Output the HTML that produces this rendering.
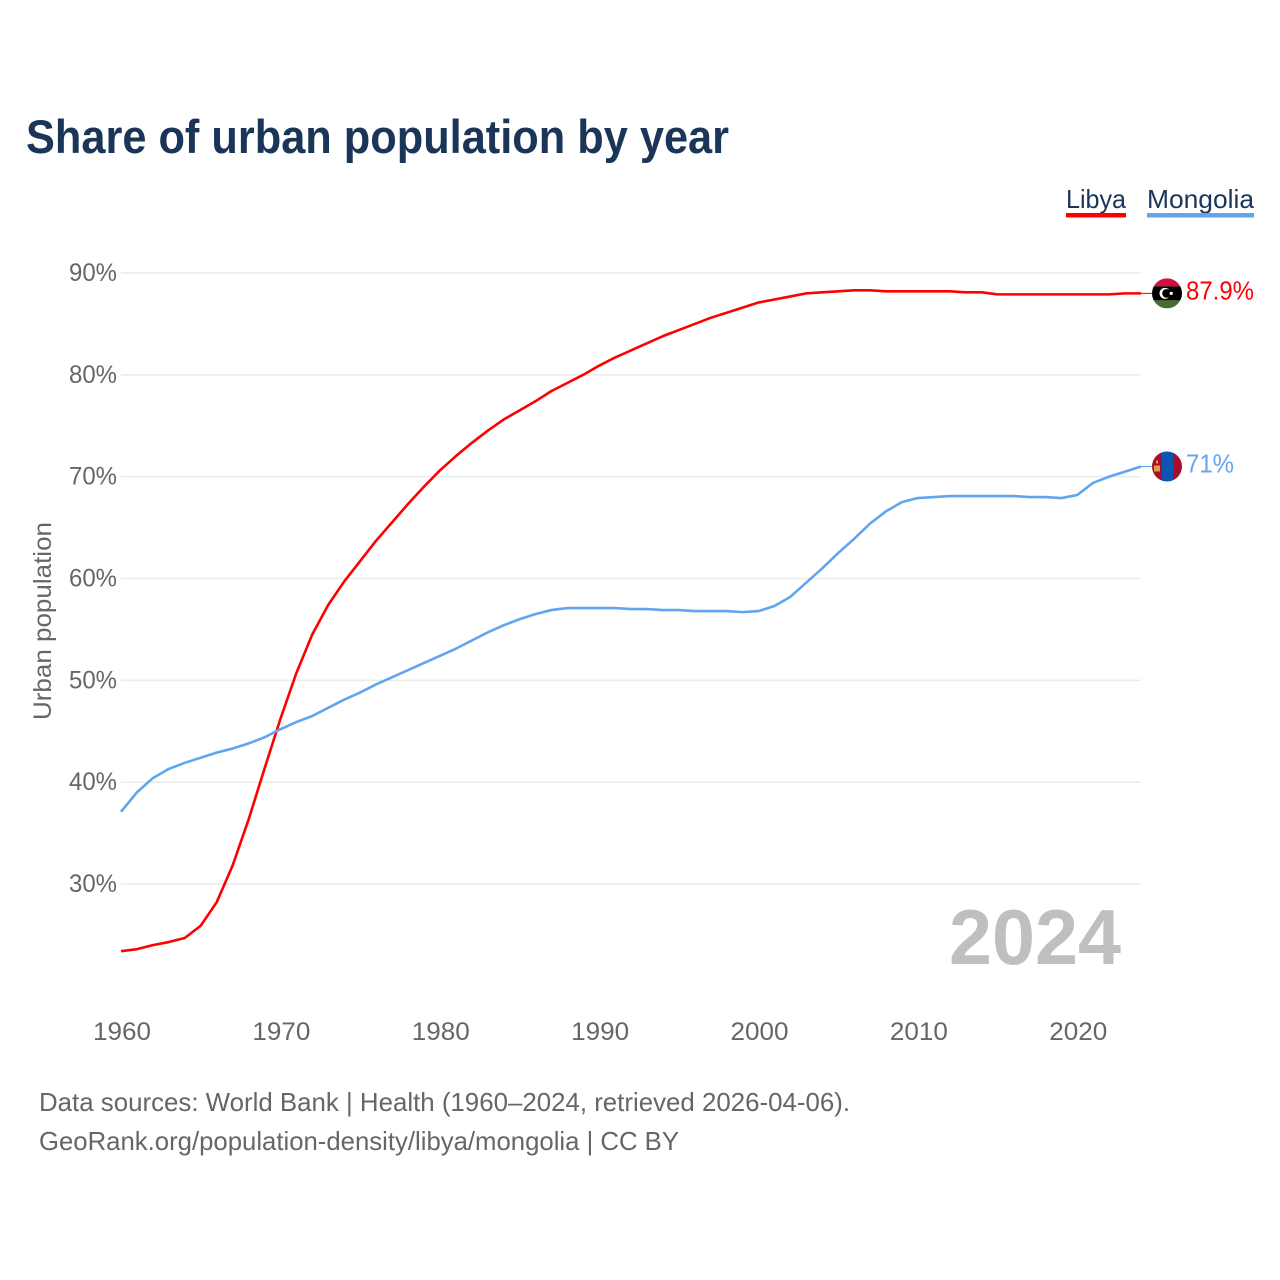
<!DOCTYPE html>
<html lang="en">
<head>
<meta charset="utf-8">
<title>Share of urban population by year</title>
<style>
html,body{margin:0;padding:0;background:#fff;}
svg{display:block;font-family:"Liberation Sans",sans-serif;}
</style>
</head>
<body>
<svg id="chart" width="1280" height="1280" viewBox="0 0 1280 1280" xmlns="http://www.w3.org/2000/svg">
  <rect width="1280" height="1280" fill="#ffffff"/>
  <text x="26" y="153" font-size="47" font-weight="700" fill="#1a3557" textLength="703" lengthAdjust="spacingAndGlyphs">Share of urban population by year</text>

  <g>
    <g>
      <text x="1066" y="208" font-size="26" fill="#1a3557" textLength="60" lengthAdjust="spacingAndGlyphs">Libya</text>
      <rect x="1066" y="213" width="60" height="4.5" fill="#ff0000"/>
    </g>
    <g>
      <text x="1147" y="208" font-size="26" fill="#1a3557" textLength="107" lengthAdjust="spacingAndGlyphs">Mongolia</text>
      <rect x="1147" y="213" width="107" height="4.5" fill="#60a5ee"/>
    </g>
  </g>

  <g id="grid"></g>
  <g id="y-axis"></g>
  <g id="x-axis"></g>
  <text transform="translate(51,621) rotate(-90)" text-anchor="middle" font-size="25" fill="#666666" textLength="198" lengthAdjust="spacingAndGlyphs">Urban population</text>

  <text x="949" y="964" font-size="78" font-weight="700" fill="#bfbfbf" textLength="172" lengthAdjust="spacingAndGlyphs">2024</text>

  <g id="series"></g>

  <g id="flag-libya">
    <clipPath id="clip-libya"><circle cx="0" cy="0" r="15"/></clipPath>
    <g clip-path="url(#clip-libya)">
      <rect x="-15" y="-15" width="30" height="8" fill="#d3103c"/>
      <rect x="-15" y="-7" width="30" height="14" fill="#000000"/>
      <rect x="-15" y="7" width="30" height="8" fill="#4a6b30"/>
      <circle cx="-2" cy="0" r="5.5" fill="#ffffff"/>
      <circle cx="-0.4" cy="0" r="4.4" fill="#000000"/>
      <circle cx="4.2" cy="0" r="1.6" fill="#ffffff"/>
    </g>
  </g>
  <g id="flag-mongolia">
    <clipPath id="clip-mongolia"><circle cx="0" cy="0" r="15"/></clipPath>
    <g clip-path="url(#clip-mongolia)">
      <rect x="-15" y="-15" width="10" height="30" fill="#a50e2d"/>
      <rect x="-5" y="-15" width="11" height="30" fill="#0a55b5"/>
      <rect x="6" y="-15" width="9" height="30" fill="#a50e2d"/>
      <rect x="-13" y="-1" width="6" height="6" fill="#d8a040"/>
      <rect x="-11" y="-6" width="2" height="3" fill="#d8a040"/>
    </g>
  </g>

  <text id="value-libya" x="1186" font-size="26" fill="#ff0000" textLength="68" lengthAdjust="spacingAndGlyphs"></text>
  <text id="value-mongolia" x="1186" font-size="26" fill="#60a5ee" textLength="48" lengthAdjust="spacingAndGlyphs"></text>

  <text x="39" y="1111" font-size="26" fill="#666666" textLength="811" lengthAdjust="spacingAndGlyphs">Data sources: World Bank | Health (1960–2024, retrieved 2026-04-06).</text>
  <text x="39" y="1150" font-size="26" fill="#666666" textLength="640" lengthAdjust="spacingAndGlyphs">GeoRank.org/population-density/libya/mongolia | CC BY</text>
</svg>
<script>
const years = [1960,1961,1962,1963,1964,1965,1966,1967,1968,1969,
  1970,1971,1972,1973,1974,1975,1976,1977,1978,1979,
  1980,1981,1982,1983,1984,1985,1986,1987,1988,1989,
  1990,1991,1992,1993,1994,1995,1996,1997,1998,1999,
  2000,2001,2002,2003,2004,2005,2006,2007,2008,2009,
  2010,2011,2012,2013,2014,2015,2016,2017,2018,2019,
  2020,2021,2022,2023,2024];
const libya = [23.4,23.6,24.0,24.3,24.7,25.9,28.2,31.8,36.3,41.3,
  46.2,50.7,54.5,57.4,59.7,61.7,63.7,65.5,67.3,69.0,
  70.6,72.0,73.3,74.5,75.6,76.5,77.4,78.4,79.2,80.0,
  80.9,81.7,82.4,83.1,83.8,84.4,85.0,85.6,86.1,86.6,
  87.1,87.4,87.7,88.0,88.1,88.2,88.3,88.3,88.2,88.2,
  88.2,88.2,88.2,88.1,88.1,87.9,87.9,87.9,87.9,87.9,
  87.9,87.9,87.9,88.0,88.0];
const mongolia = [37.1,39.0,40.4,41.3,41.9,42.4,42.9,43.3,43.8,44.4,
  45.2,45.9,46.5,47.3,48.1,48.8,49.6,50.3,51.0,51.7,
  52.4,53.1,53.9,54.7,55.4,56.0,56.5,56.9,57.1,57.1,
  57.1,57.1,57.0,57.0,56.9,56.9,56.8,56.8,56.8,56.7,
  56.8,57.3,58.2,59.6,61.0,62.5,63.9,65.4,66.6,67.5,
  67.9,68.0,68.1,68.1,68.1,68.1,68.1,68.0,68.0,67.9,
  68.2,69.4,70.0,70.5,71.0];
const yTicks = [30,40,50,60,70,80,90];
const yTickLabels = ["30%","40%","50%","60%","70%","80%","90%"];
const xTicks = [1960,1970,1980,1990,2000,2010,2020];
const xTickLabels = ["1960","1970","1980","1990","2000","2010","2020"];
const endLabelLibya = "87.9%";
const endLabelMongolia = "71%";

const NS = "http://www.w3.org/2000/svg";
function xScale(year){ return 121 + (year - 1960) * (1020 / 64); }
function yScale(value){ return 273 + (90 - value) * (611 / 60); }
function make(tag, parent){
  const el = document.createElementNS(NS, tag);
  parent.appendChild(el);
  return el;
}

const gridGroup = document.getElementById("grid");
const yAxisGroup = document.getElementById("y-axis");
const xAxisGroup = document.getElementById("x-axis");
const seriesGroup = document.getElementById("series");

yTicks.forEach(function(tick, i){
  const line = make("line", gridGroup);
  
  
  line.setAttribute("x1", xScale(1960));
  line.setAttribute("x2", xScale(2024));
  line.setAttribute("y1", yScale(tick));
  line.setAttribute("y2", yScale(tick));
  line.setAttribute("stroke", "#ececec");
  line.setAttribute("stroke-width", "1.6");

  const label = make("text", yAxisGroup);
  
  
  label.setAttribute("x", 69);
  label.setAttribute("y", yScale(tick) + 8);
  label.setAttribute("font-size", "25");
  label.setAttribute("fill", "#666666");
  label.setAttribute("textLength", "48");
  label.setAttribute("lengthAdjust", "spacingAndGlyphs");
  label.textContent = yTickLabels[i];
});

xTicks.forEach(function(tick, i){
  const label = make("text", xAxisGroup);
  
  
  label.setAttribute("x", xScale(tick) - 28);
  label.setAttribute("y", 1040);
  label.setAttribute("font-size", "25");
  label.setAttribute("fill", "#666666");
  label.setAttribute("textLength", "58");
  label.setAttribute("lengthAdjust", "spacingAndGlyphs");
  label.textContent = xTickLabels[i];
});

function linePath(values){
  return values.map(function(v, i){
    return (i ? "L" : "M") + xScale(years[i]).toFixed(2) + " " + yScale(v).toFixed(2);
  }).join(" ");
}

const libyaLine = make("path", seriesGroup);


libyaLine.setAttribute("d", linePath(libya));
libyaLine.setAttribute("fill", "none");
libyaLine.setAttribute("stroke", "#ff0000");
libyaLine.setAttribute("stroke-width", "2.6");
libyaLine.setAttribute("stroke-linejoin", "round");

const mongoliaLine = make("path", seriesGroup);


mongoliaLine.setAttribute("d", linePath(mongolia));
mongoliaLine.setAttribute("fill", "none");
mongoliaLine.setAttribute("stroke", "#60a5ee");
mongoliaLine.setAttribute("stroke-width", "2.6");
mongoliaLine.setAttribute("stroke-linejoin", "round");

const lastYear = years[years.length - 1];
const libyaEndY = yScale(libya[libya.length - 1]);
const mongoliaEndY = yScale(mongolia[mongolia.length - 1]);

const libyaConnector = make("line", seriesGroup);


libyaConnector.setAttribute("x1", xScale(lastYear));
libyaConnector.setAttribute("x2", xScale(lastYear) + 11);
libyaConnector.setAttribute("y1", libyaEndY);
libyaConnector.setAttribute("y2", libyaEndY);
libyaConnector.setAttribute("stroke", "#ff0000");
libyaConnector.setAttribute("stroke-width", "1");

const mongoliaConnector = make("line", seriesGroup);


mongoliaConnector.setAttribute("x1", xScale(lastYear));
mongoliaConnector.setAttribute("x2", xScale(lastYear) + 11);
mongoliaConnector.setAttribute("y1", mongoliaEndY);
mongoliaConnector.setAttribute("y2", mongoliaEndY);
mongoliaConnector.setAttribute("stroke", "#60a5ee");
mongoliaConnector.setAttribute("stroke-width", "1");

document.getElementById("flag-libya").setAttribute("transform", "translate(1167," + libyaEndY + ")");
document.getElementById("flag-mongolia").setAttribute("transform", "translate(1167," + mongoliaEndY + ")");

const libyaValue = document.getElementById("value-libya");
libyaValue.setAttribute("y", libyaEndY + 6);
libyaValue.textContent = endLabelLibya;
const mongoliaValue = document.getElementById("value-mongolia");
mongoliaValue.setAttribute("y", mongoliaEndY + 6);
mongoliaValue.textContent = endLabelMongolia;
</script>
</body>
</html>
